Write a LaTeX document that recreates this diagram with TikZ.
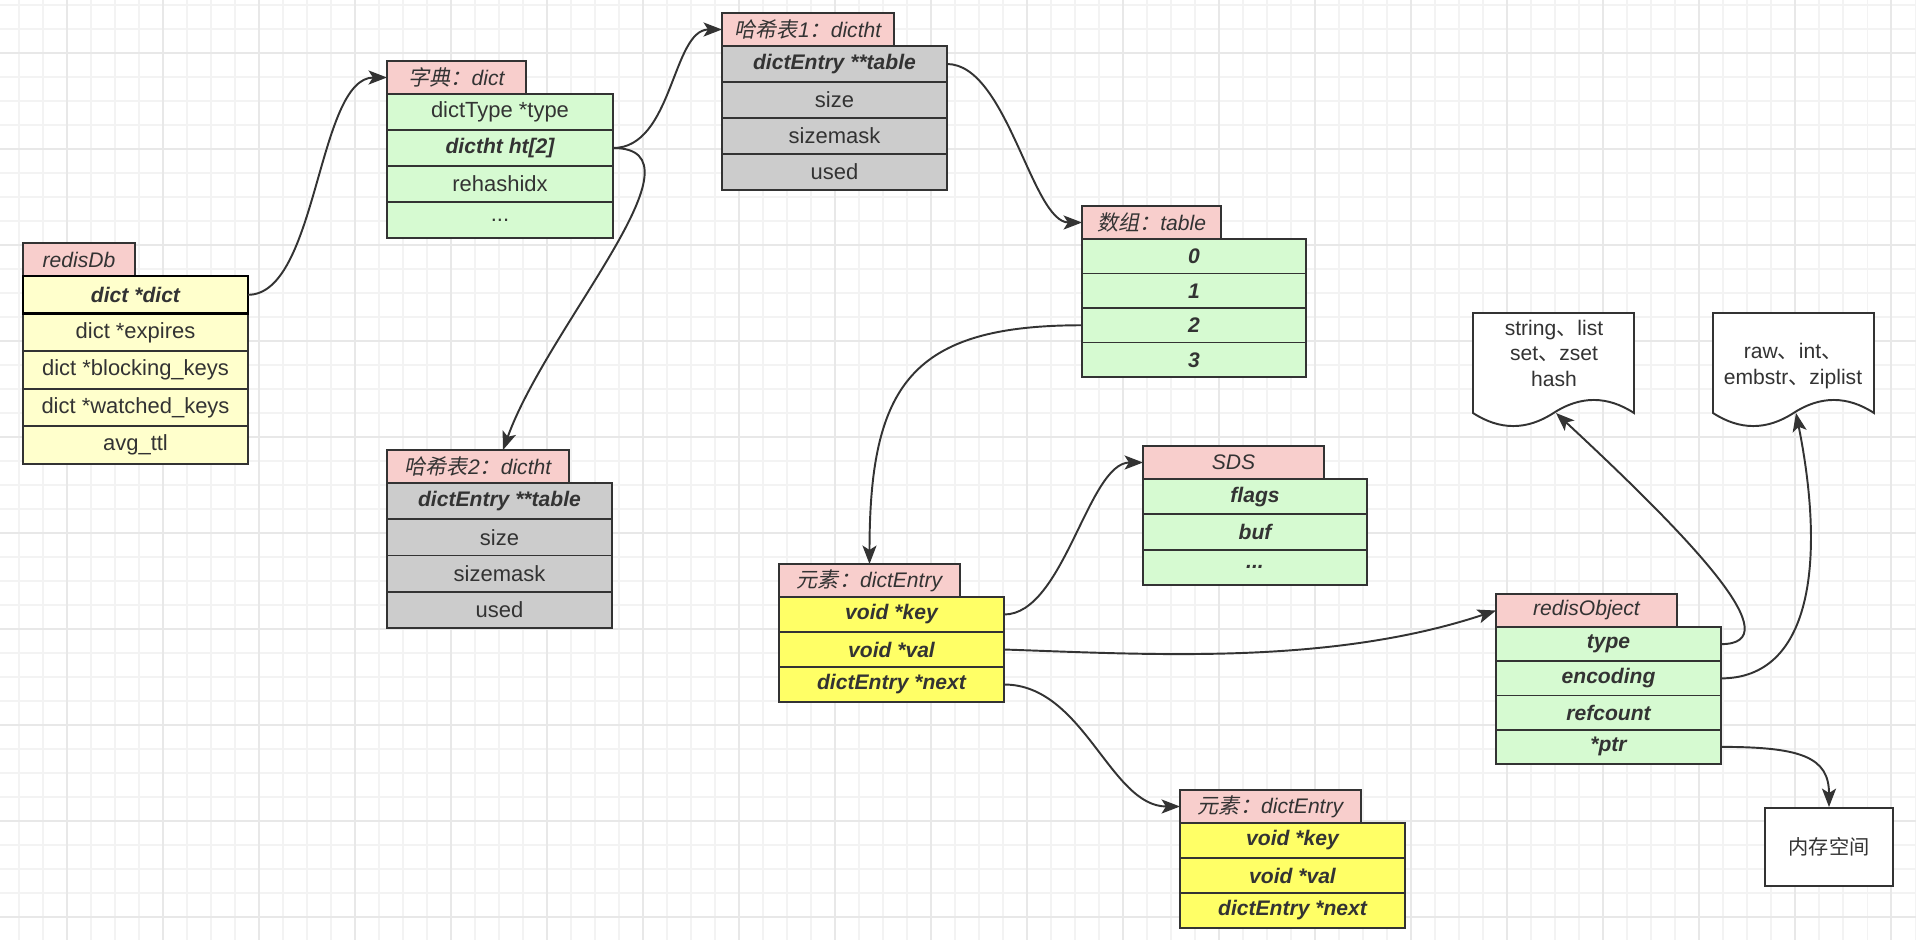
\documentclass[tikz,border=0pt]{standalone}
\usepackage{fontspec}
\setmainfont{Liberation Sans}
\newfontfamily\cjk{Noto Sans CJK SC}
\newfontfamily\cjkit{Noto Sans CJK SC}[FakeSlant=0.2]
\usetikzlibrary{arrows.meta,calc}

\definecolor{inkgray}{HTML}{333333}
\definecolor{gridminor}{HTML}{F3F3F3}
\definecolor{gridmajor}{HTML}{E8E8E8}
\definecolor{headpink}{HTML}{F8CECC}
\definecolor{dbyellow}{HTML}{FFFFCC}
\definecolor{fieldgreen}{HTML}{D6FAD1}
\definecolor{fieldgray}{HTML}{CCCCCC}
\definecolor{entryyellow}{HTML}{FFFF66}

\newcommand{\TabH}{33}
\newcommand{\Dots}{...}
\newcommand{\rowreg}{\fontsize{12.5}{15}\selectfont}
\newcommand{\rowbi}{\fontsize{12}{15}\selectfont\bfseries\itshape}

\tikzset{
  tabhead/.style={
    draw=inkgray, fill=headpink, line width=1.1pt,
    anchor=north west, inner sep=0pt, outer sep=0pt, text=inkgray,
    font=\fontsize{12}{14}\selectfont\itshape,
    minimum height=\TabH*0.02cm
  },
  fieldrow/.style={
    draw=inkgray, line width=1.1pt,
    anchor=north west, inner sep=0pt, outer sep=0pt, text=inkgray,
    font=\rowreg
  },
  link/.style={
    draw=inkgray, line width=1.1pt,
    -{Stealth[length=10.5pt,width=8pt,inset=2.5pt]}
  },
  docline/.style={draw=inkgray, fill=white, line width=1.1pt},
  doctext/.style={align=center, text=inkgray, inner sep=0pt,
    font=\fontsize{12}{14.5}\selectfont},
  membox/.style={draw=inkgray, fill=white, line width=1.1pt, text=inkgray,
    minimum width=128*0.02cm, minimum height=78*0.02cm,
    font=\fontsize{11.5}{14}\selectfont},
  gridthin/.style={draw=gridminor, line width=0.6pt},
  gridthick/.style={draw=gridmajor, line width=0.9pt}
}

% #1 name, #2 x, #3 tab top, #4 tab width, #5 box width, #6 row height,
% #7 row style, #8 title, #9 rows
\newcommand{\DrawRecord}[9]{%
  \node[tabhead, minimum width=#4*0.02cm] (#1) at (#2,#3) {#8};
  \foreach \txt [count=\i] in {#9} {
    \pgfmathsetmacro{\RowYTmp}{#3+\TabH+(\i-1)*#6}
    \node[fieldrow, #7, minimum width=#5*0.02cm, minimum height=#6*0.02cm]
      (#1-\i) at (#2,\RowYTmp) {\txt};
  }
}

% document shape, tip coordinate named #1
\newcommand{\DrawDocShape}[3]{%
  \begin{scope}[shift={(#2,#3)}]
    \draw[docline] (0,0) -- (161,0) -- (161,100)
      .. controls (134.2,82.6) and (107.3,82.6) .. (80.5,100)
      .. controls (53.7,117.4) and (26.8,117.4) .. (0,100) -- cycle;
    \coordinate (#1) at (83,100);
  \end{scope}
}

\begin{document}
\begin{tikzpicture}[x=0.02cm,y=-0.02cm]
  \useasboundingbox (0,0) rectangle (1916,940);
  \fill[white] (0,0) rectangle (1916,940);

  % grid
  \foreach \gx in {19,43,...,1915} \draw[gridthin] (\gx,0) -- (\gx,940);
  \foreach \gy in {5,29,...,939} \draw[gridthin] (0,\gy) -- (1916,\gy);
  \foreach \gx in {67,163,...,1915} \draw[gridthick] (\gx,0) -- (\gx,940);
  \foreach \gy in {53,149,...,939} \draw[gridthick] (0,\gy) -- (1916,\gy);

  % records
  \DrawRecord{db}{23}{243}{112}{225}{37.6}{fill=dbyellow}{redisDb}
    {{\rowbi dict *dict}, dict *expires, dict *blocking\_keys, dict *watched\_keys, avg\_ttl}
  \draw[line width=1.7pt, black] (db-1.north west) rectangle (db-1.south east);

  \DrawRecord{dict}{387}{61}{139}{226}{36}{fill=fieldgreen}{{\cjkit\upshape 字典：}dict}
    {dictType *type, {\rowbi dictht ht[2]}, rehashidx, \Dots}

  \DrawRecord{htone}{722}{13}{172}{225}{36}{fill=fieldgray}{{\cjkit\upshape 哈希表}1{\cjkit\upshape ：}dictht}
    {{\rowbi dictEntry **table}, size, sizemask, used}

  \DrawRecord{httwo}{387}{450}{182}{225}{36.25}{fill=fieldgray}{{\cjkit\upshape 哈希表}2{\cjkit\upshape ：}dictht}
    {{\rowbi dictEntry **table}, size, sizemask, used}

  \DrawRecord{tbl}{1082}{206}{139}{224}{34.5}{fill=fieldgreen, font=\rowbi}{{\cjkit\upshape 数组：}table}
    {0, 1, 2, 3}

  \DrawRecord{entryone}{779}{564}{181}{225}{35}{fill=entryyellow, font=\rowbi}{{\cjkit\upshape 元素：}dictEntry}
    {void *key, void *val, dictEntry *next}

  \DrawRecord{sds}{1143}{446}{181}{224}{35.3}{fill=fieldgreen, font=\rowbi}{SDS}
    {flags, buf, \Dots}

  \DrawRecord{robj}{1496}{594}{181}{225}{34.25}{fill=fieldgreen, font=\rowbi}{redisObject}
    {type, encoding, refcount, *ptr}

  \DrawRecord{entrytwo}{1180}{790}{181}{225}{35}{fill=entryyellow, font=\rowbi}{{\cjkit\upshape 元素：}dictEntry}
    {void *key, void *val, dictEntry *next}

  % documents and memory
  \DrawDocShape{types-tip}{1473}{313}
  \node[doctext] (types) at (1554,353) {string{\cjk 、}list\\set{\cjk 、}zset\\hash};
  \DrawDocShape{encs-tip}{1713}{313}
  \node[doctext] (encs) at (1793,366) {raw{\cjk 、}int{\cjk 、}\\embstr{\cjk 、}ziplist};
  \node[membox] (mem) at (1829,847) {\cjk 内存空间};

  % pointers
  \draw[link] (db-1.east) .. controls +(70,0) and +(-70,0) .. (dict.west);
  \draw[link] (dict-2.east) .. controls +(60,0) and +(-50,0) .. (htone.west);
  \draw[link] (dict-2.east) .. controls +(100,0) and +(45,-125) .. ($(httwo.north)+(25,0)$);
  \draw[link] (htone-1.east) .. controls +(60,0) and +(-50,0) .. (tbl.west);
  \draw[link] (tbl-3.west) .. controls +(-170,0) and +(0,-180) .. (entryone.north);
  \draw[link] (entryone-1.east) .. controls +(60,0) and +(-55,0) .. (sds.west);
  \draw[link] (entryone-2.east) .. controls +(146,5) and +(-166,55) .. (robj.west);
  \draw[link] (entryone-3.east) .. controls +(80,0) and +(-70,0) .. (entrytwo.west);
  \draw[link] (robj-1.east) .. controls +(70,0) and +(140,130) .. (types-tip);
  \draw[link] (robj-2.east) .. controls +(90,0) and +(30,150) .. (encs-tip);
  \draw[link] (robj-4.east) .. controls +(80,0) and +(0,-50) .. (mem.north);
\end{tikzpicture}
\end{document}
